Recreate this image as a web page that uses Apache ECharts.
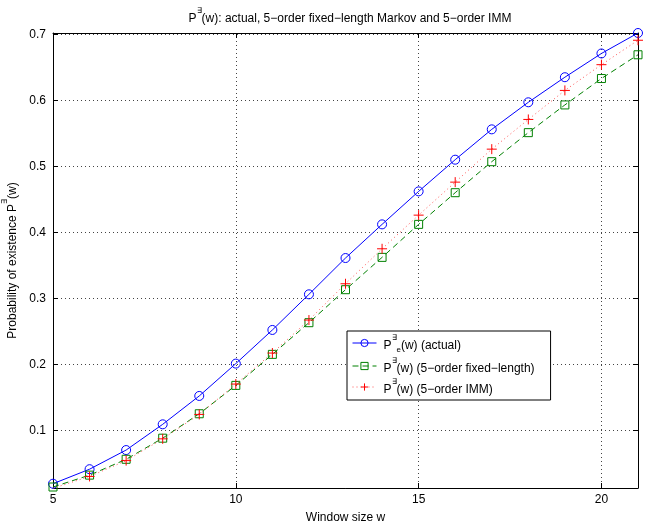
<!DOCTYPE html>
<html>
<head>
<meta charset="utf-8">
<script src="https://cdn.jsdelivr.net/npm/echarts@6/dist/echarts.min.js"></script>
<style>
  html, body { margin: 0; padding: 0; background: #fff; }
  #chart { width: 646px; height: 525px; }
</style>
</head>
<body>
<div id="chart"></div>
<script>
const windowSizes = [5, 6, 7, 8, 9, 10, 11, 12, 13, 14, 15, 16, 17, 18, 19, 20, 21];
const actual = [0.019, 0.041, 0.070, 0.109, 0.152, 0.201, 0.252, 0.306, 0.361, 0.412, 0.462, 0.510, 0.556, 0.597, 0.635, 0.671, 0.702];
const fixedLength = [0.014, 0.032, 0.056, 0.088, 0.125, 0.168, 0.215, 0.263, 0.313, 0.362, 0.412, 0.460, 0.507, 0.551, 0.593, 0.633, 0.669];
const imm = [0.012, 0.030, 0.054, 0.087, 0.124, 0.170, 0.217, 0.267, 0.322, 0.375, 0.426, 0.476, 0.526, 0.571, 0.615, 0.654, 0.691];
const yTicks = [0.1, 0.2, 0.3, 0.4, 0.5, 0.6, 0.7];
const xTicks = [5, 10, 15, 20];

const font = "Liberation Sans, Arial, Helvetica, sans-serif";
const plusPath = "path://M0,-1L0,1M-1,0L1,0";

const rich = {
  b: { fontFamily: font, fontSize: 12, fontWeight: "normal", color: "#000", lineHeight: 18, verticalAlign: "bottom" },
  s: { fontFamily: font, fontSize: 8, fontWeight: "normal", color: "#000", lineHeight: 18, verticalAlign: "top" },
  e: { fontFamily: font, fontSize: 8, fontWeight: "normal", color: "#000", lineHeight: 18, verticalAlign: "bottom", padding: [0, 0, -2, 0] }
};

function pair(arr) {
  return windowSizes.map((w, i) => [w, arr[i]]);
}

const gridLine = { show: true, lineStyle: { color: "#444", type: [1, 3], width: 1 } };
const tick = { show: true, inside: true, length: 5, lineStyle: { color: "#000" } };
const axisLine = { show: true, lineStyle: { color: "#000", width: 1 } };

const option = {
  animation: false,
  backgroundColor: "#fff",
  title: {
    text: "{b|P}{s|∃}{b|(w): actual, 5−order fixed−length Markov and 5−order IMM}",
    left: 345,
    textAlign: "center",
    top: 2,
    textStyle: { fontWeight: "normal", rich: rich }
  },
  grid: { left: 53, right: 8, top: 33, bottom: 37, containLabel: false, outerBoundsMode: "none" },
  legend: {
    orient: "vertical",
    left: 347,
    top: 331,
    padding: [3, 16, 4, 5],
    itemGap: 3,
    itemWidth: 24,
    itemHeight: 9,
    backgroundColor: "#fff",
    borderColor: "#000",
    borderWidth: 1,
    borderRadius: 0,
    lineStyle: { width: 1 },
    itemStyle: { borderWidth: 1 },
    textStyle: { fontFamily: font, fontSize: 12, color: "#000", padding: [0, 0, 0, 2], rich: rich },
    formatter: function (name) {
      if (name === "actual") return "{b|P}{s|∃}{e|e}{b|(w) (actual)}";
      if (name === "fixed") return "{b|P}{s|∃}{b|(w) (5−order fixed−length)}";
      return "{b|P}{s|∃}{b|(w) (5−order IMM)}";
    },
    data: ["actual", "fixed", "imm"]
  },
  xAxis: [
    {
      type: "value",
      min: 5,
      max: 21,
      interval: 5,
      name: "Window size w",
      nameLocation: "middle",
      nameGap: 24,
      nameTextStyle: { fontFamily: font, fontSize: 12, color: "#000" },
      axisLine: axisLine,
      axisTick: tick,
      splitLine: gridLine,
      axisLabel: {
        fontFamily: font, fontSize: 12, color: "#000", margin: 6,
        formatter: v => (xTicks.indexOf(v) >= 0 ? String(v) : "")
      }
    },
    {
      type: "value",
      position: "top",
      min: 5,
      max: 21,
      interval: 5,
      axisLine: axisLine,
      axisTick: tick,
      axisLabel: { show: false },
      splitLine: { show: false }
    }
  ],
  yAxis: [
    {
      type: "value",
      min: 0.0125,
      max: 0.702,
      splitNumber: 7,
      name: "{b|Probability of existence P}{s|∃}{b|(w)}",
      nameLocation: "middle",
      nameGap: 34,
      nameRotate: 90,
      nameTextStyle: { rich: rich },
      axisLine: axisLine,
      axisTick: tick,
      splitLine: gridLine,
      axisLabel: {
        fontFamily: font, fontSize: 12, color: "#000", margin: 7,
        formatter: function (v) {
          const t = yTicks.find(k => Math.abs(k - v) < 0.004);
          return t !== undefined ? t.toFixed(1) : "";
        }
      }
    },
    {
      type: "value",
      position: "right",
      min: 0.0125,
      max: 0.702,
      splitNumber: 7,
      axisLine: axisLine,
      axisTick: tick,
      axisLabel: { show: false },
      splitLine: { show: false }
    }
  ],
  series: [
    {
      name: "actual",
      type: "line",
      data: pair(actual),
      symbol: "circle",
      symbolSize: 9,
      lineStyle: { color: "#0000ff", width: 1 },
      itemStyle: { color: "rgba(0,0,0,0)", borderColor: "#0000ff", borderWidth: 1 },
      z: 2
    },
    {
      name: "fixed",
      type: "line",
      data: pair(fixedLength),
      symbol: "rect",
      symbolSize: 8,
      lineStyle: { color: "#008000", width: 1, type: [6, 4] },
      itemStyle: { color: "rgba(0,0,0,0)", borderColor: "#008000", borderWidth: 1 },
      z: 3
    },
    {
      name: "imm",
      type: "line",
      data: pair(imm),
      symbol: plusPath,
      symbolSize: 10,
      lineStyle: { color: "#ff5555", width: 1, type: [1, 3] },
      itemStyle: { color: "#ff0000", borderColor: "#ff0000", borderWidth: 1 },
      z: 4
    }
  ]
};

const chart = echarts.init(document.getElementById("chart"));
chart.setOption(option);
</script>
</body>
</html>
